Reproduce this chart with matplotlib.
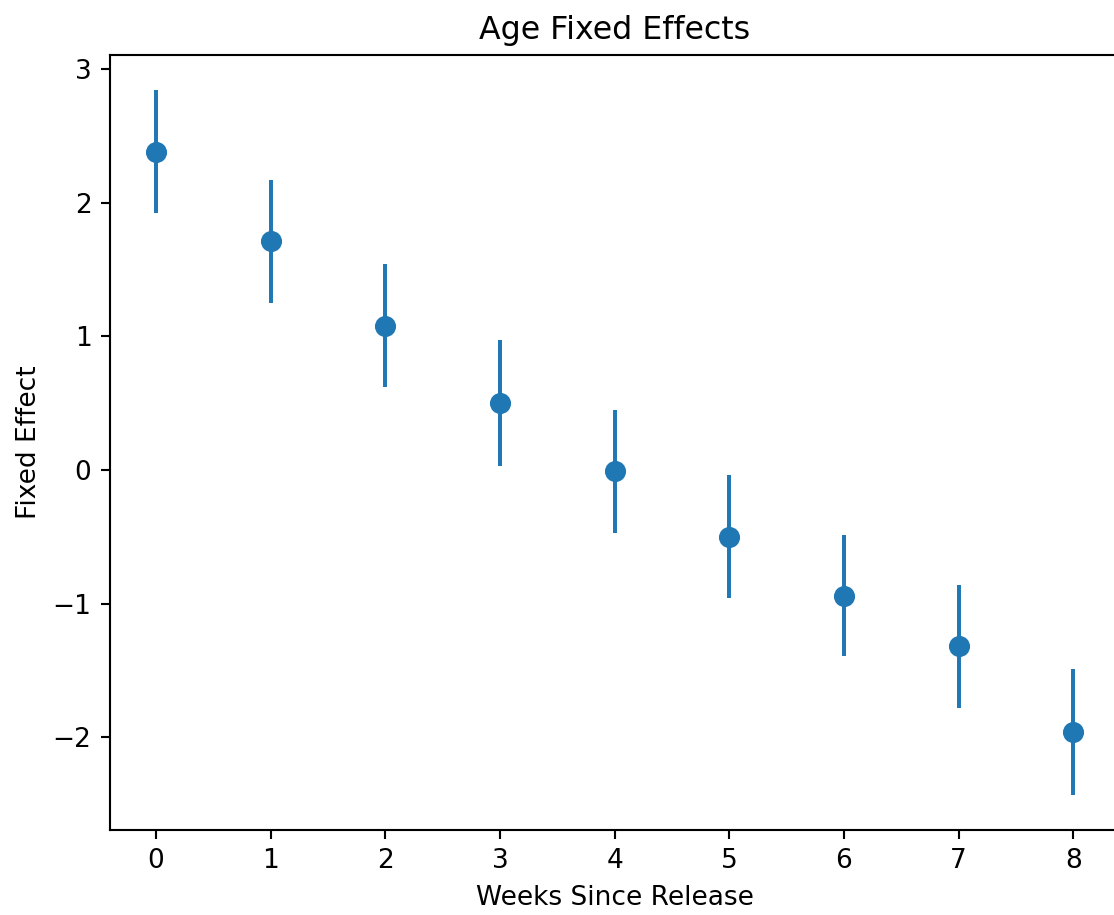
import matplotlib.pyplot as plt

# weekly age fixed effects with their error bands
weeks = [0, 1, 2, 3, 4, 5, 6, 7, 8]
effects = [2.38, 1.71, 1.08, 0.50, -0.01, -0.50, -0.94, -1.32, -1.96]
errors = [0.46, 0.46, 0.46, 0.47, 0.46, 0.46, 0.45, 0.46, 0.47]

dpi = 190
fig = plt.figure(figsize=(1114 / dpi, 915 / dpi), dpi=dpi)
ax = fig.add_axes([0.0987, 0.0929, 0.906, 0.847])

ax.errorbar(weeks, effects, yerr=errors, fmt='o', markersize=7)
ax.set_xlim(-0.4, 8.4)
ax.set_title('Age Fixed Effects')
ax.set_xlabel('Weeks Since Release')
ax.set_ylabel('Fixed Effect')

fig.savefig('out.png', dpi=dpi)
